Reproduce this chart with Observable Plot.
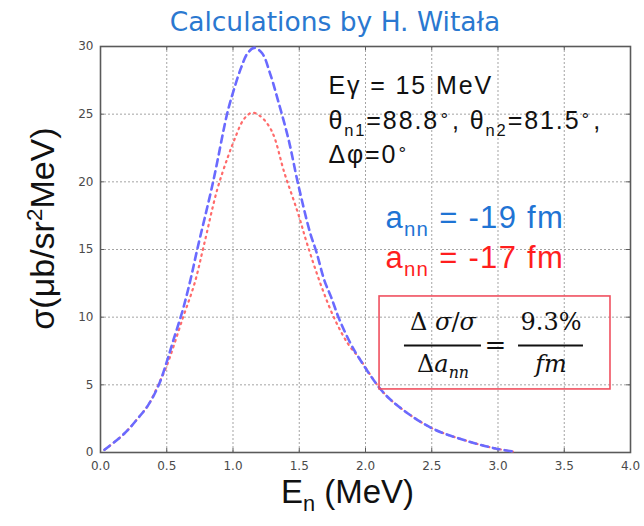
<!DOCTYPE html>
<html>
<head>
<meta charset="utf-8">
<script src="https://cdn.jsdelivr.net/npm/d3@7"></script>
<script src="https://cdn.jsdelivr.net/npm/@observablehq/plot@0.6"></script>
<style>
  html, body { margin: 0; padding: 0; background: #fff; }
  #wrap { width: 644px; height: 526px; position: relative; overflow: hidden; }
  #title { height: 40px; line-height: 44px; font-family: "DejaVu Sans", sans-serif; font-size: 26.5px;
           color: #2a78d0; text-align: center; padding-left: 26px; box-sizing: border-box; width: 644px; }
  .info text { letter-spacing: 1.9px; }
  .ann text { letter-spacing: 1.3px; }
  .ylab text, .xlab text { text-anchor: middle; }
</style>
</head>
<body>
<div id="wrap">
  <div id="title">Calculations by H. Witała</div>
  <div id="chart"></div>
</div>
<script>
// ---- data ----
const xTicks = [0, 0.5, 1.0, 1.5, 2.0, 2.5, 3.0, 3.5, 4.0];
const yTicks = [0, 5, 10, 15, 20, 25, 30];

// a_nn = -19 fm (blue dashed)
const enBlue = [0.03, 0.18, 0.28, 0.36, 0.44, 0.50, 0.55, 0.62, 0.68, 0.73, 0.85, 0.955, 1.00, 1.06, 1.11, 1.16, 1.22, 1.28, 1.34, 1.42, 1.49, 1.58, 1.63, 1.69, 1.74, 1.80, 1.89, 1.95, 2.12, 2.25, 2.50, 2.75, 2.98, 3.13];
const sigBlue = [0.2, 1.4, 2.5, 3.5, 5.0, 6.7, 8.3, 10.5, 12.8, 15.0, 20.0, 25.0, 26.6, 28.4, 29.5, 29.9, 29.5, 28.0, 26.0, 23.1, 19.9, 16.3, 14.8, 12.7, 11.5, 9.9, 8.0, 7.0, 4.6, 3.4, 1.8, 0.9, 0.3, 0.05];

// a_nn = -17 fm (red dotted)
const enRed = [0.03, 0.18, 0.28, 0.36, 0.45, 0.50, 0.62, 0.71, 0.78, 0.88, 0.96, 1.01, 1.08, 1.14, 1.20, 1.29, 1.39, 1.49, 1.56, 1.67, 1.77, 1.87, 1.95, 2.12, 2.25, 2.50, 2.75, 2.98, 3.13];
const sigRed = [0.2, 1.4, 2.5, 3.5, 5.3, 6.4, 9.9, 12.5, 15.3, 19.4, 21.8, 23.1, 24.6, 25.1, 24.9, 23.8, 20.6, 17.7, 15.4, 12.2, 9.8, 8.0, 7.0, 4.6, 3.4, 1.8, 0.9, 0.3, 0.05];

const infoLines = ["Eγ = 15 MeV", "θ_{n1}=88.8^{∘}, θ_{n2}=81.5^{∘},", "Δφ=0^{∘}"];
const annLabels = ["a_{nn} = -19 fm", "a_{nn} = -17 fm"];
const xLabel = "E_{n} (MeV)";
const yLabel = "σ(μb/sr^{2}MeV)";

// ---- build ----
const blue = enBlue.map((x, i) => ({x, y: sigBlue[i]}));
const red = enRed.map((x, i) => ({x, y: sigRed[i]}));

const gridStyle = {stroke: "#9a9a9a", strokeOpacity: 0.9, strokeDasharray: "2,2", strokeWidth: 1};
const tickStyle = {stroke: "#5a5a5a", strokeWidth: 1};

const chart = Plot.plot({
  width: 644,
  height: 486,
  marginTop: 6,
  marginLeft: 100,
  marginRight: 14,
  marginBottom: 74,
  style: {background: "#fff", overflow: "visible"},
  x: {domain: [0, 4]},
  y: {domain: [0, 30]},
  marks: [
    Plot.gridX(xTicks, gridStyle),
    Plot.gridY(yTicks, gridStyle),
    Plot.axisX(xTicks, {tickFormat: d3.format(".1f"), tickSize: 0, tickPadding: 9, fontSize: 12,
      fontFamily: "DejaVu Sans", fill: "#4a4a4a", label: null}),
    Plot.axisY(yTicks, {tickSize: 0, tickPadding: 7, fontSize: 12,
      fontFamily: "DejaVu Sans", fill: "#4a4a4a", label: null}),
    // inward tick marks on all four sides
    Plot.ruleX(xTicks, {y1: 0, y2: 0.3, ...tickStyle}),
    Plot.ruleX(xTicks, {y1: 30, y2: 29.7, ...tickStyle}),
    Plot.ruleY(yTicks, {x1: 0, x2: 0.03, ...tickStyle}),
    Plot.ruleY(yTicks, {x1: 4, x2: 3.97, ...tickStyle}),
    Plot.frame({stroke: "#5a5a5a", strokeWidth: 1.6}),
    // curves
    Plot.line(red, {x: "x", y: "y", stroke: "#ff6b6b", strokeWidth: 2.2, strokeDasharray: "1.5,4.5",
      strokeLinecap: "round", curve: "catmull-rom"}),
    Plot.line(blue, {x: "x", y: "y", stroke: "#6a6aff", strokeWidth: 2.6, strokeDasharray: "7,5",
      curve: "catmull-rom"}),
    // info text
    Plot.text(infoLines, {x: 1.72, y: (d, i) => [27.05, 24.46, 21.95][i], text: d => d, textAnchor: "start",
      fontSize: 25, fontFamily: "Liberation Sans", fill: "#111", className: "info"}),
    Plot.text([annLabels[0]], {x: 2.15, y: 17.29, text: d => d, textAnchor: "start",
      fontSize: 31, fontFamily: "Liberation Sans", fill: "#1f74d4", className: "ann"}),
    Plot.text([annLabels[1]], {x: 2.15, y: 14.34, text: d => d, textAnchor: "start",
      fontSize: 31, fontFamily: "Liberation Sans", fill: "#ff1e1e", className: "ann"}),
    // formula box
    Plot.rect([0], {x1: 2.106, x2: 3.849, y1: 4.66, y2: 11.53, fill: "none", stroke: "#f0505f", strokeWidth: 1.6}),
    Plot.ruleY([7.91], {x1: 2.294, x2: 2.875, stroke: "#111", strokeWidth: 2}),
    Plot.ruleY([7.91], {x1: 3.155, x2: 3.645, stroke: "#111", strokeWidth: 2}),
    Plot.text(["Δ *{σ}/*{σ}"], {x: 2.585, y: 9.6, text: d => d, fontSize: 24, fontFamily: "DejaVu Serif", fill: "#111"}),
    Plot.text(["Δ*{a}*_{nn}"], {x: 2.585, y: 6.5, text: d => d, fontSize: 24, fontFamily: "DejaVu Serif", fill: "#111"}),
    Plot.text(["="], {x: 2.98, y: 7.91, text: d => d, fontSize: 26, fontFamily: "DejaVu Serif", fill: "#111"}),
    Plot.text(["9.3%"], {x: 3.40, y: 9.6, text: d => d, fontSize: 24, fontFamily: "DejaVu Serif", fill: "#111"}),
    Plot.text(["fm"], {x: 3.40, y: 6.5, text: d => d, fontSize: 24, fontFamily: "DejaVu Serif", fontStyle: "italic", fill: "#111"}),
    // axis labels
    Plot.text([xLabel], {x: 1.864, frameAnchor: "bottom", dy: 50, text: d => d, fontSize: 33,
      fontFamily: "Liberation Sans", fill: "#111", className: "xlab"}),
    Plot.text([yLabel], {x: -0.43, y: 16.55, textAnchor: "middle", rotate: -90, text: d => d, fontSize: 34,
      fontFamily: "Liberation Sans", fill: "#111", className: "ylab"})
  ]
});

document.getElementById("chart").append(chart);

// markup -> tspans:  _{sub}  ^{sup}  *{italic}  (a "*" prefix makes the following sub italic)
function richify(svg) {
  const ns = "http://www.w3.org/2000/svg";
  svg.querySelectorAll("text").forEach(t => {
    const s = t.textContent;
    if (!/[_^*]\{/.test(s)) return;
    const fs = parseFloat(getComputedStyle(t).fontSize);
    while (t.firstChild) t.removeChild(t.firstChild);
    const re = /(\*?[_^]|\*)\{([^}]*)\}/g;
    let last = 0, m, shift = 0;
    const add = (txt, dy, small, italic) => {
      const ts = document.createElementNS(ns, "tspan");
      ts.textContent = txt;
      if (dy) ts.setAttribute("dy", dy);
      if (small) ts.setAttribute("font-size", fs * 0.66);
      if (italic) ts.setAttribute("font-style", "italic");
      t.appendChild(ts);
    };
    while ((m = re.exec(s))) {
      if (m.index > last) { add(s.slice(last, m.index), -shift); shift = 0; }
      const kind = m[1];
      const italic = kind.startsWith("*");
      if (kind === "*") {
        add(m[2], -shift, false, true); shift = 0;
      } else {
        const d = kind.endsWith("_") ? fs * 0.26 : -fs * 0.36;
        add(m[2], d - shift, true, italic);
        shift = d;
      }
      last = re.lastIndex;
    }
    if (last < s.length) add(s.slice(last), -shift);
  });
}
richify(chart);
</script>
</body>
</html>
